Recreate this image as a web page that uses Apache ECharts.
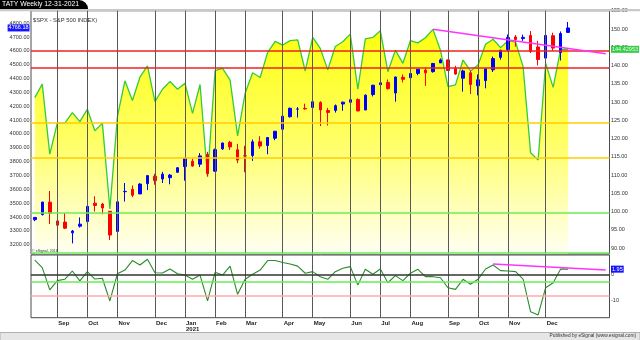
<!DOCTYPE html>
<html><head><meta charset="utf-8">
<script src="https://cdn.jsdelivr.net/npm/echarts@6/dist/echarts.min.js"></script>
<style>html,body{margin:0;padding:0;background:#fff}#c{width:640px;height:340px}</style>
</head><body><div id="c"></div>
<script>
// ---------- DATA ----------
const weeks = ['2020-08-17','2020-08-24','2020-08-31','2020-09-07','2020-09-14','2020-09-21','2020-09-28','2020-10-05','2020-10-12','2020-10-19','2020-10-26','2020-11-02','2020-11-09','2020-11-16','2020-11-23','2020-11-30','2020-12-07','2020-12-14','2020-12-21','2020-12-28',
'2021-01-04','2021-01-11','2021-01-18','2021-01-25','2021-02-01','2021-02-08','2021-02-15','2021-02-22','2021-03-01','2021-03-08','2021-03-15','2021-03-22','2021-03-29','2021-04-05','2021-04-12','2021-04-19','2021-04-26','2021-05-03','2021-05-10','2021-05-17','2021-05-24','2021-05-31','2021-06-07','2021-06-14','2021-06-21','2021-06-28','2021-07-05','2021-07-12','2021-07-19','2021-07-26','2021-08-02','2021-08-09','2021-08-16','2021-08-23','2021-08-30','2021-09-06','2021-09-13','2021-09-20','2021-09-27','2021-10-04','2021-10-11','2021-10-18','2021-10-25','2021-11-01','2021-11-08','2021-11-15','2021-11-22','2021-11-29','2021-12-06','2021-12-13','2021-12-20','2021-12-27'];
const futureWeeks = ['2022-01-03','2022-01-10','2022-01-17','2022-01-24','2022-01-31'];

const opens = [3380.86,3418.09,3507.44,3371.88,3363.56,3285.57,3333.90,3367.27,3500.02,3493.50,3441.42,3296.20,3583.04,3600.16,3566.82,3641.18,3694.73,3675.27,3684.28,3723.03,
3764.61,3803.14,3781.88,3851.68,3731.17,3892.59,3939.61,3885.55,3842.51,3844.39,3942.96,3916.48,3969.31,4034.44,4124.71,4179.80,4185.14,4191.98,4228.29,4169.14,4170.16,4216.52,4229.34,4248.87,4173.40,4284.90,4356.46,4372.41,4296.40,4409.58,4406.86,4437.77,4461.65,4450.29,4513.76,4535.38,4474.81,4402.95,4442.12,4348.84,4385.44,4463.72,4553.69,4610.62,4701.50,4689.30,4712.00,4628.75,4548.37,4710.30,4587.90,4733.99];
const highs = [3399.96,3509.44,3588.11,3425.55,3428.92,3306.88,3397.18,3482.34,3549.85,3502.42,3441.42,3529.05,3645.99,3628.51,3644.31,3699.20,3712.39,3726.70,3711.24,3760.20,
3826.69,3823.60,3861.45,3870.90,3894.56,3937.15,3950.43,3928.65,3914.50,3960.27,3983.87,3978.19,4020.63,4129.48,4191.31,4194.17,4218.78,4238.04,4236.39,4188.72,4213.42,4234.12,4249.74,4257.16,4286.12,4355.60,4384.63,4393.68,4415.18,4429.97,4440.82,4468.00,4480.26,4513.33,4545.85,4535.38,4492.81,4465.40,4457.30,4429.97,4475.82,4559.67,4608.08,4718.50,4714.92,4717.75,4743.83,4672.95,4713.57,4731.99,4740.74,4808.93];
const lows = [3369.66,3410.43,3349.63,3310.47,3313.13,3209.45,3323.69,3354.85,3440.45,3419.93,3233.94,3279.74,3511.91,3543.84,3566.82,3594.39,3633.40,3645.84,3636.48,3723.03,
3662.71,3764.71,3760.75,3694.12,3725.60,3884.94,3884.60,3789.54,3723.34,3805.59,3894.12,3853.50,3955.00,4034.44,4118.38,4118.38,4176.38,4142.68,4056.88,4061.41,4154.83,4167.59,4220.34,4164.40,4173.40,4271.21,4304.79,4321.07,4233.13,4372.51,4367.73,4424.22,4347.53,4443.00,4513.76,4456.99,4427.76,4305.91,4288.52,4278.94,4329.92,4447.47,4537.36,4595.06,4630.86,4672.78,4585.43,4495.12,4540.51,4600.22,4531.10,4733.99];
const closes = [3397.16,3508.01,3426.96,3340.97,3319.47,3298.46,3348.44,3477.13,3483.81,3465.39,3269.96,3509.44,3585.15,3557.54,3638.35,3699.12,3663.46,3709.41,3703.06,3756.07,
3824.68,3768.25,3841.47,3714.24,3886.83,3934.83,3906.71,3811.15,3841.94,3943.34,3913.10,3974.54,4019.87,4128.80,4185.47,4180.17,4181.17,4232.60,4173.85,4155.86,4204.11,4229.89,4247.44,4166.45,4280.70,4352.34,4369.55,4327.16,4411.79,4395.26,4436.52,4468.00,4441.67,4509.37,4535.43,4458.58,4432.99,4455.48,4357.04,4391.34,4471.37,4544.90,4605.38,4697.53,4682.85,4697.96,4594.62,4538.43,4712.02,4620.64,4725.79,4766.18];

const tatyValues = [131.2,134.9,115.7,124.2,124.2,127.1,124.6,128.0,122.1,124.2,100.7,126.0,135.8,130.4,136.8,139.9,130.1,133.5,135.6,133.5,
135.1,126.9,134.8,109.5,138.6,139.2,136.0,120.7,132.4,138.0,136.7,143.6,146.6,145.6,146.8,147.0,138.5,147.7,144.7,138.8,145.2,146.5,148.6,133.5,147.3,147.7,149.5,138.3,144.2,140.6,146.8,146.2,147.6,149.9,144.2,134.2,134.7,141.5,138.5,140.1,145.8,147.2,144.9,146.8,146.4,139.7,116.1,114.1,140.6,134.0,144.42953,144.42953];

const oscValues = [5.4,2.5,-5.9,-2.4,-1.9,1.25,-2.5,1.0,-1.8,-1.5,-10.1,0.2,1.6,5.2,3.5,5.7,0.6,0.5,2.0,0.2,
-0.3,-1.9,-0.3,-10.1,0.75,-0.3,3.1,-7.6,-1.9,0,1.6,5.2,5.2,4.5,3.9,3.1,0.4,1.0,-0.9,-1.9,1.0,2.3,2.9,-4.1,1.9,0,2.0,-3.2,-0.5,-2.4,0.4,1.9,-0.9,-0.9,-1.3,-5.1,-5.7,-1.9,-3.8,-1.9,2.0,3.5,1.4,1.25,1.0,-1.8,-14.2,-15.4,-5.1,-3.2,2.0,1.95];

const tatyRedLevels = [144.0, 139.5];
const tatyYellowLevels = [124.4, 114.6];
const tatyGreenLevels = [99.6, 88.8];
const tatyTrend = [[53, 149.9], [76, 143.2]];
const oscZeroLevel = [0];
const oscGreenLevels = [-3.0];
const oscPinkLevels = [-8.2];
const oscTrend = [[61, 3.9], [76, 1.6]];
const monthAbbr = ['Jan','Feb','Mar','Apr','May','Jun','Jul','Aug','Sep','Oct','Nov','Dec'];

// ---------- BUILD ----------
const F = '"Liberation Sans", Arial, sans-serif';
const categories = weeks.concat(futureWeeks);
const candles = weeks.map((w, i) => [opens[i], closes[i], lows[i], highs[i]]);
const monthStarts = [];
for (let i = 1; i < weeks.length; i++) if (weeks[i].slice(5,7) !== weeks[i-1].slice(5,7)) monthStarts.push(i);
const isMonthStart = new Set(monthStarts);
const vLines = monthStarts.map(i => ({xAxis: categories[i], lineStyle: {color: '#585858', width: 1, type: 'solid'}}));
const hLine = (v, color, w) => ({yAxis: v, lineStyle: {color: color, width: w, type: 'solid'}});
const last = weeks.length - 1;
const mult = (v, s) => Math.abs(v / s - Math.round(v / s)) < 1e-6;
const CLEAR = 'rgba(0,0,0,0)';
const tag = (text, pos, bg, fg) => ({show: true, position: pos, distance: 1.5, formatter: () => text, backgroundColor: bg, color: fg,
  fontSize: 5.5, padding: [1, 1, 0, 1], fontFamily: F});

const chart = echarts.init(document.getElementById('c'));
chart.setOption({
  animation: false,
  backgroundColor: '#fff',
  textStyle: {fontFamily: F},
  title: {text: 'TATY Weekly 12-31-2021', left: 0, top: 0, padding: [1, 9, 1, 2], backgroundColor: '#000', borderRadius: [0, 9, 0, 0],
    textStyle: {color: '#fff', fontSize: 6.8, fontWeight: 'normal', lineHeight: 7, fontFamily: F}, z: 10},
  grid: [
    {left: 31, top: 10.75, width: 578.5, height: 243.25, show: true, borderColor: '#4a4a4a', borderWidth: 1, backgroundColor: 'transparent'},
    {left: 31, top: 255, width: 578.5, height: 62.7, show: true, borderColor: '#4a4a4a', borderWidth: 1, backgroundColor: 'transparent'}
  ],
  xAxis: [
    {type: 'category', gridIndex: 0, data: categories, boundaryGap: true, axisLine: {show: false}, axisTick: {show: false}, axisLabel: {show: false}, splitLine: {show: false}},
    {type: 'category', gridIndex: 1, data: categories, boundaryGap: true, axisLine: {show: false},
      axisTick: {show: true, alignWithLabel: true, interval: (i) => isMonthStart.has(i), length: 3, lineStyle: {color: '#585858'}},
      axisLabel: {interval: (i) => isMonthStart.has(i), align: 'left', margin: 2, fontSize: 6, fontWeight: 'bold', color: '#222', lineHeight: 6.5, padding: [0, 0, 0, 1], fontFamily: F,
        formatter: (v) => { const m = +v.slice(5,7); return monthAbbr[m-1] + (m === 1 ? '\n' + v.slice(0,4) : ''); }},
      splitLine: {show: false}}
  ],
  yAxis: [
    {type: 'value', gridIndex: 0, position: 'left', min: 3132.8, max: 4890.4, minInterval: 100, maxInterval: 100, splitNumber: 17,
      axisLine: {show: false}, axisTick: {show: false}, splitLine: {show: false},
      axisLabel: {fontSize: 5.5, color: '#333', margin: 1.5, fontFamily: F, formatter: v => mult(v, 100) ? v.toFixed(2) : ''}},
    {type: 'value', gridIndex: 0, position: 'right', min: 88.356, max: 155, minInterval: 5, maxInterval: 5, splitNumber: 13,
      axisLine: {show: false}, axisTick: {show: false}, splitLine: {show: false},
      axisLabel: {fontSize: 5.5, color: '#333', margin: 1.5, fontFamily: F, formatter: v => mult(v, 5) ? v.toFixed(2) : ''}},
    {type: 'value', gridIndex: 1, position: 'right', min: -16.44, max: 7.31, minInterval: 10, maxInterval: 10, splitNumber: 2,
      axisLine: {show: false}, axisTick: {show: false}, splitLine: {show: false},
      axisLabel: {fontSize: 5.5, color: '#333', margin: 1.5, fontFamily: F, formatter: v => mult(v, 10) ? String(Math.round(v)) : ''}}
  ],
  series: [
    {name: 'TATY', type: 'line', xAxisIndex: 0, yAxisIndex: 1, data: tatyValues, symbol: 'none', z: 1, silent: true,
      lineStyle: {color: '#33cc33', width: 1.3},
      areaStyle: {opacity: 1, color: new echarts.graphic.LinearGradient(0, 0, 0, 1, [
        {offset: 0, color: '#ffff10'}, {offset: 0.5, color: '#ffff66'}, {offset: 1, color: '#fffff4'}])}},
    {name: 'levels', type: 'line', xAxisIndex: 0, yAxisIndex: 1, data: [], z: 2, silent: true,
      markLine: {silent: true, symbol: 'none', label: {show: false},
        data: vLines.concat(
          tatyRedLevels.map(v => hLine(v, '#ee2222', 1.5)),
          tatyYellowLevels.map(v => hLine(v, '#ffcc00', 1.5)),
          tatyGreenLevels.map(v => hLine(v, '#66ee55', 1.5)))}},
    {name: 'SPX', type: 'candlestick', xAxisIndex: 0, yAxisIndex: 0, data: candles, z: 3, barWidth: 3, silent: true,
      itemStyle: {color: '#0000ff', color0: '#ff0000', borderColor: '#0000ff', borderColor0: '#ff0000', borderWidth: 1}},
    {name: 'trend', type: 'line', xAxisIndex: 0, yAxisIndex: 1, data: [], z: 4, silent: true,
      markLine: {silent: true, symbol: 'none', label: {show: false}, lineStyle: {color: '#ff33ff', width: 1.5, type: 'solid'},
        data: [[{coord: tatyTrend[0]}, {coord: tatyTrend[1]}]]}},
    {name: 'tagsMain', type: 'line', xAxisIndex: 0, yAxisIndex: 1, data: [], z: 6, silent: true,
      markLine: {silent: true, symbol: 'none',
        data: [{yAxis: tatyValues[last], lineStyle: {color: CLEAR, width: 0}, label: tag(String(tatyValues[last]), 'end', '#33cc44', '#eaffea')}]}},
    {name: 'tagsPrice', type: 'line', xAxisIndex: 0, yAxisIndex: 0, data: [], z: 6, silent: true,
      markLine: {silent: true, symbol: 'none',
        data: [{yAxis: closes[last], lineStyle: {color: CLEAR, width: 0}, label: tag(closes[last].toFixed(2), 'start', '#1414ff', '#ffffff')}]}},
    {name: 'oscGrid', type: 'line', xAxisIndex: 1, yAxisIndex: 2, data: [], z: 1, silent: true,
      markLine: {silent: true, symbol: 'none', label: {show: false},
        data: vLines.concat(
          oscZeroLevel.map(v => hLine(v, '#333333', 1.5)),
          oscGreenLevels.map(v => hLine(v, '#66ee55', 1.5)),
          oscPinkLevels.map(v => hLine(v, '#ffaaaa', 1.5)))}},
    {name: 'osc', type: 'line', xAxisIndex: 1, yAxisIndex: 2, data: oscValues, symbol: 'none', z: 2, silent: true,
      lineStyle: {color: '#2a8c2a', width: 1.1},
      markLine: {silent: true, symbol: 'none', label: {show: false}, lineStyle: {color: '#ff33ff', width: 1.5, type: 'solid'},
        data: [[{coord: oscTrend[0]}, {coord: oscTrend[1]}]]}},
    {name: 'tagsOsc', type: 'line', xAxisIndex: 1, yAxisIndex: 2, data: [], z: 6, silent: true,
      markLine: {silent: true, symbol: 'none',
        data: [{yAxis: oscValues[last], lineStyle: {color: CLEAR, width: 0}, label: tag(String(oscValues[last]), 'end', '#1414ff', '#ffffff')}]}}
  ],
  graphic: [
    {type: 'rect', z: 5, shape: {x: 0, y: 9, width: 640, height: 2.2}, style: {fill: '#c9c9c9'}},
    {type: 'rect', z: 5, shape: {x: 0, y: 332.5, width: 640, height: 8}, style: {fill: '#e6e6e6', stroke: '#b0b0b0', lineWidth: 1}},
    {type: 'text', z: 6, x: 33, y: 17, style: {text: '$SPX - S&P 500 INDEX)', fontSize: 5.8, fontFamily: F, fill: '#333', verticalAlign: 'top'}},
    {type: 'text', z: 6, x: 32, y: 248.5, style: {text: '© eSignal, 2016', fontSize: 3.6, fontFamily: F, fill: '#333', verticalAlign: 'top'}},
    {type: 'text', z: 6, x: 636, y: 333.6, style: {text: 'Published by eSignal (www.esignal.com)', fontSize: 4.8, fontFamily: F, fill: '#333', align: 'right', verticalAlign: 'top'}}
  ]
});
</script>
</body></html>
